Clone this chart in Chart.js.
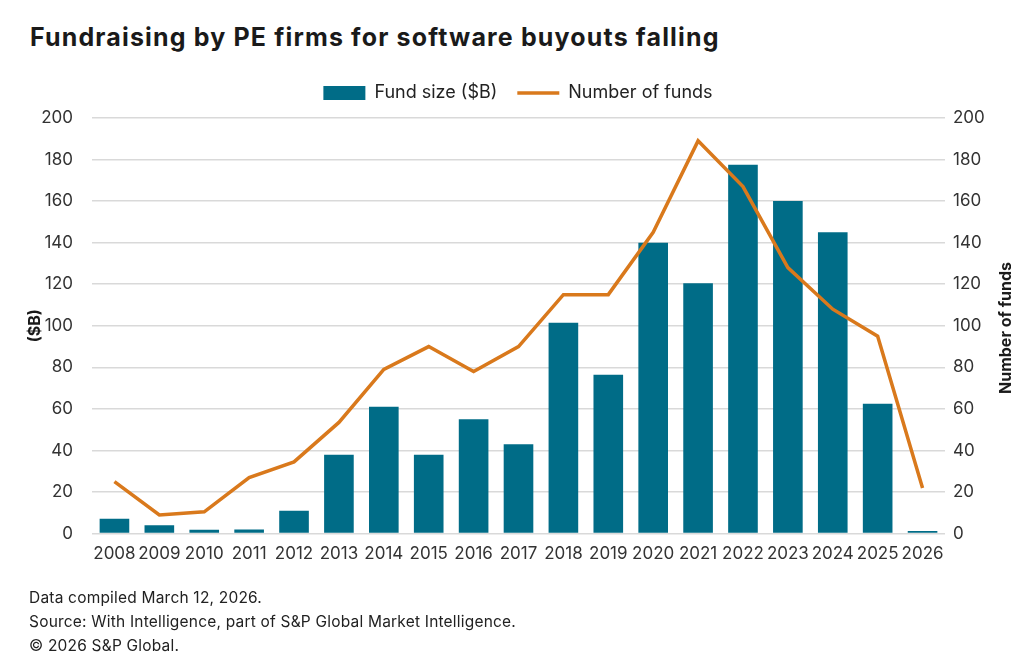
<!DOCTYPE html>
<html>
<head>
<meta charset="utf-8">
<script src="https://cdn.jsdelivr.net/npm/chart.js@4.4.1/dist/chart.umd.min.js"></script>
<style>
  html, body { margin: 0; padding: 0; background: #fff; }
  body { width: 1036px; height: 671px; position: relative; overflow: hidden; font-family: Inter, "Noto Sans", sans-serif; color: #222; }
  #title { position: absolute; left: 30px; top: 22px; font-size: 25px; line-height: 30px; font-weight: 700; letter-spacing: 1.15px; color: #1a1a1a; white-space: nowrap; }
  #chart { position: absolute; left: 0; top: 0; }
  #rtitle { position: absolute; left: 1005px; top: 328px; transform: translate(-50%, -50%) rotate(-90deg); white-space: nowrap; font-size: 16px; font-weight: 700; color: #1a1a1a; }
  #foot { position: absolute; left: 29px; top: 586px; font-size: 15.5px; line-height: 24px; letter-spacing: 0.2px; color: #222; }
</style>
</head>
<body>
<div id="title">Fundraising by PE firms for software buyouts falling</div>
<canvas id="chart" width="1036" height="671"></canvas>
<div id="rtitle">Number of funds</div>
<div id="foot">
  Data compiled March 12, 2026.<br>
  Source: With Intelligence, part of S&amp;P Global Market Intelligence.<br>
  © 2026 S&amp;P Global.
</div>
<script>
const years = ['2008', '2009', '2010', '2011', '2012', '2013', '2014', '2015', '2016', '2017',
               '2018', '2019', '2020', '2021', '2022', '2023', '2024', '2025', '2026'];
const fundSize = [7.2, 4, 1.9, 2, 11, 38, 61, 38, 55, 43, 101.5, 76.5, 140, 120.5, 177.5, 160, 145, 62.5, 1.2];
const fundCount = [25, 9, 10.5, 27, 34.5, 53.5, 79, 90, 78, 90, 115, 115, 145, 189, 167, 128, 108, 95, 22];
const yTicks = [0, 20, 40, 60, 80, 100, 120, 140, 160, 180, 200];

const blue = '#006c87';
const orange = '#d9791c';
const tickFont = { family: 'Inter', size: 17 };
const padTop = 64;

// leave a bit more room between the legend and the plot
const legendGap = {
  id: 'legendGap',
  beforeInit(chart) {
    const fit = chart.legend.fit;
    chart.legend.fit = function () {
      fit.call(this);
      this.height = 118 - padTop;
    };
  }
};

new Chart(document.getElementById('chart'), {
  type: 'bar',
  data: {
    labels: years,
    datasets: [
      {
        label: 'Fund size ($B)',
        data: fundSize,
        backgroundColor: blue,
        borderColor: blue,
        borderWidth: 0,
        barPercentage: 0.66,
        categoryPercentage: 1,
        pointStyle: 'rect',
        yAxisID: 'y',
        order: 2
      },
      {
        type: 'line',
        label: 'Number of funds',
        data: fundCount,
        borderColor: orange,
        backgroundColor: orange,
        borderWidth: 3.5,
        pointRadius: 0,
        tension: 0,
        pointStyle: 'line',
        yAxisID: 'y1',
        order: 1
      }
    ]
  },
  options: {
    responsive: false,
    animation: false,
    layout: { padding: { top: padTop, bottom: 105, left: 0, right: 0 } },
    plugins: {
      tooltip: { enabled: false },
      legend: {
        labels: {
          usePointStyle: true,
          pointStyleWidth: 42,
          boxHeight: 14,
          padding: 20,
          color: '#222',
          font: { family: 'Inter', size: 18 },
          sort: (a, b) => a.datasetIndex - b.datasetIndex
        }
      }
    },
    scales: {
      x: {
        grid: { display: false },
        border: { display: false },
        ticks: { font: tickFont, color: '#333', padding: 2, autoSkip: false, maxRotation: 0 }
      },
      y: {
        position: 'left',
        min: 0,
        max: 200,
        afterBuildTicks: axis => { axis.ticks = yTicks.map(v => ({ value: v })); },
        afterFit: axis => { axis.width = 92; },
        grid: { color: '#d9d9d9', lineWidth: 1.5, drawTicks: false },
        border: { display: false },
        ticks: { font: tickFont, color: '#333', padding: 19 },
        title: { display: true, text: '($B)', color: '#1a1a1a', font: { family: 'Inter', size: 16, weight: 'bold' }, padding: { top: 26 } }
      },
      y1: {
        position: 'right',
        min: 0,
        max: 200,
        afterBuildTicks: axis => { axis.ticks = yTicks.map(v => ({ value: v })); },
        afterFit: axis => { axis.width = 91; },
        grid: { display: false, drawTicks: false },
        border: { display: false },
        ticks: { font: tickFont, color: '#333', padding: 8 }
      }
    }
  },
  plugins: [legendGap]
});
</script>
</body>
</html>
